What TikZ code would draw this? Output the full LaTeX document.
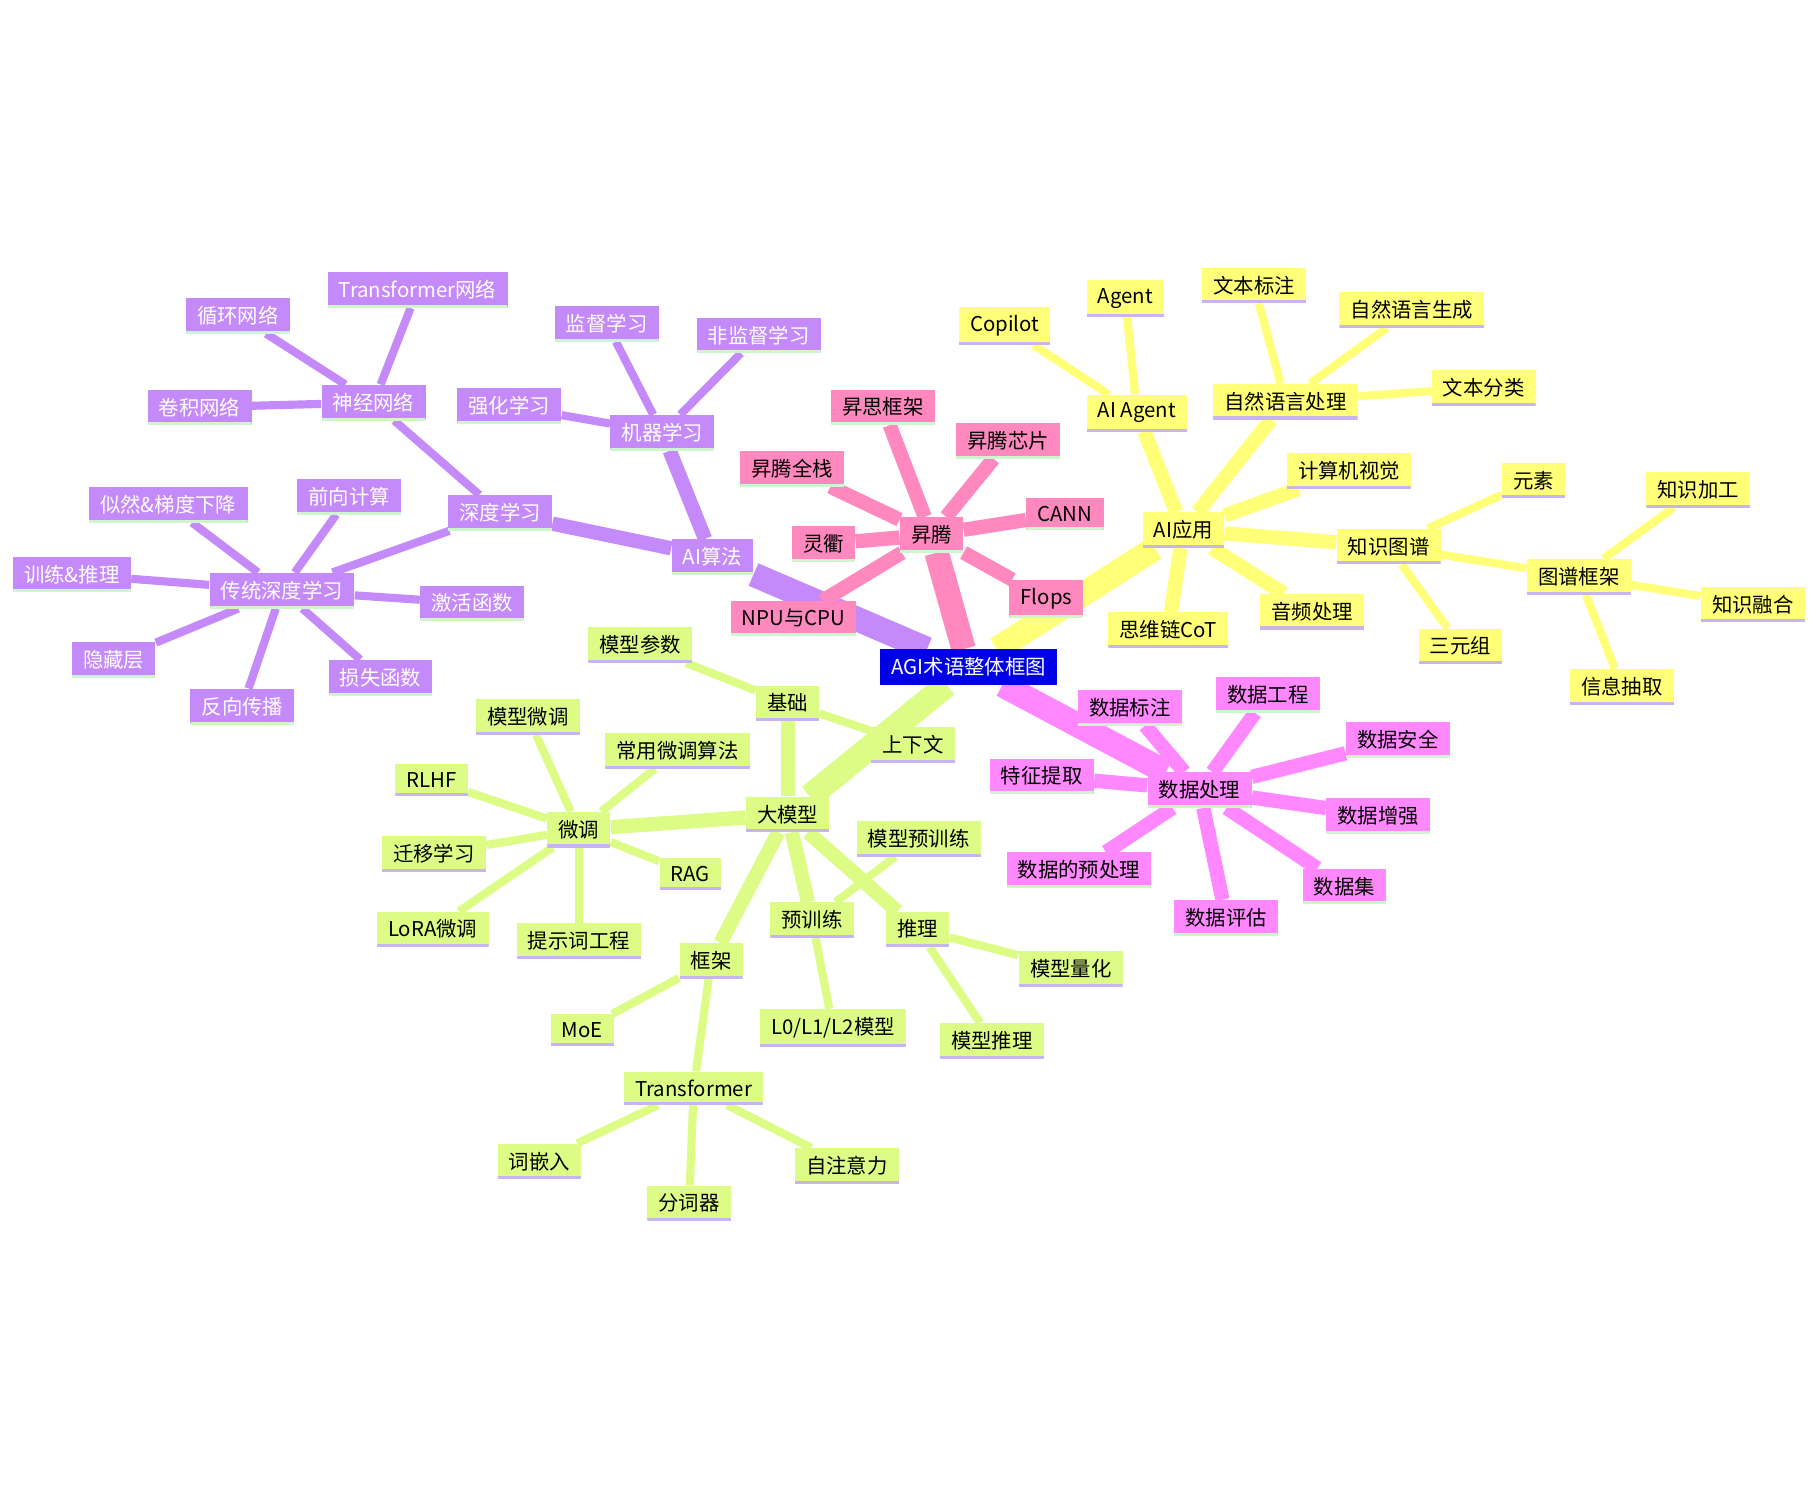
\documentclass[tikz,border=0pt]{standalone}
\usepackage{fontspec}
\setmainfont{Noto Sans CJK SC}
\usetikzlibrary{backgrounds}
\definecolor{purp}{HTML}{C58AF9}
\definecolor{pinkc}{HTML}{FF88BE}
\definecolor{yell}{HTML}{FFFF78}
\definecolor{grn}{HTML}{DCFC86}
\definecolor{mag}{HTML}{FF88FF}
\definecolor{rootc}{HTML}{0000E6}
\definecolor{lgrn}{HTML}{CFF5CF}
\definecolor{lpur}{HTML}{C8B4F0}
\tikzset{
  box/.style args={#1/#2/#3}{fill=#1, text=#2, inner xsep=5.5pt, inner ysep=4pt,
    font=\fontsize{10}{12}\selectfont,
    path picture={\draw[line width=2.5pt,#3] (path picture bounding box.south west) -- (path picture bounding box.south east);}},
  pu/.style={box=purp/white/lgrn},
  pk/.style={box=pinkc/black/lgrn},
  ye/.style={box=yell/black/lpur},
  gr/.style={box=grn/black/lpur},
  mg/.style={box=mag/black/lgrn},
  lv1/.style={line width=12pt},
  lv2/.style={line width=7pt},
  lv3/.style={line width=4pt},
}
\begin{document}
\begin{tikzpicture}[x=0.02cm,y=-0.02cm]
\useasboundingbox (0,0) rectangle (1568,1283);
\node[box=rootc/white/rootc] (root) at (835,575) {AGI术语整体框图};
% purple branch
\node[pu] (alg) at (614,480) {AI算法};
\node[pu] (ml) at (571,373) {机器学习};
\node[pu] (sup) at (523,279) {监督学习};
\node[pu] (unsup) at (654,289) {非监督学习};
\node[pu] (rl) at (439,350) {强化学习};
\node[pu] (dl) at (431,442) {深度学习};
\node[pu] (nn) at (322,347) {神经网络};
\node[pu] (rnn) at (205,272) {循环网络};
\node[pu] (trn) at (360,250) {Transformer网络};
\node[pu] (cnn) at (172,351) {卷积网络};
\node[pu] (tdl) at (243,509) {传统深度学习};
\node[pu] (grad) at (145,435) {似然\&梯度下降};
\node[pu] (fwd) at (301,428) {前向计算};
\node[pu] (train) at (62,495) {训练\&推理};
\node[pu] (act) at (407,520) {激活函数};
\node[pu] (hid) at (98,569) {隐藏层};
\node[pu] (bp) at (209,609) {反向传播};
\node[pu] (loss) at (328,584) {损失函数};
% pink branch
\node[pk] (ast) at (803,461) {昇腾};
\node[pk] (msf) at (761,351) {昇思框架};
\node[pk] (chip) at (869,380) {昇腾芯片};
\node[pk] (full) at (683,404) {昇腾全栈};
\node[pk] (cann) at (918,443) {CANN};
\node[pk] (lq) at (710,469) {灵衢};
\node[pk] (flops) at (902,516) {Flops};
\node[pk] (npu) at (684,533) {NPU与CPU};
% yellow branch
\node[ye] (app) at (1020,457) {AI应用};
\node[ye] (aag) at (980,356) {AI Agent};
\node[ye] (cop) at (866,281) {Copilot};
\node[ye] (agent) at (970,257) {Agent};
\node[ye] (nlp) at (1108,346) {自然语言处理};
\node[ye] (tag) at (1081,246) {文本标注};
\node[ye] (nlg) at (1217,267) {自然语言生成};
\node[ye] (cls) at (1279,334) {文本分类};
\node[ye] (cv) at (1163,406) {计算机视觉};
\node[ye] (kg) at (1197,471) {知识图谱};
\node[ye] (elem) at (1322,414) {元素};
\node[ye] (tri) at (1259,557) {三元组};
\node[ye] (kgf) at (1361,497) {图谱框架};
\node[ye] (kproc) at (1464,422) {知识加工};
\node[ye] (kfuse) at (1511,521) {知识融合};
\node[ye] (ie) at (1398,592) {信息抽取};
\node[ye] (cot) at (1007,543) {思维链CoT};
\node[ye] (aud) at (1131,527) {音频处理};
% magenta branch
\node[mg] (dp) at (1034,681) {数据处理};
\node[mg] (dlab) at (974,610) {数据标注};
\node[mg] (deng) at (1093,599) {数据工程};
\node[mg] (dsec) at (1205,638) {数据安全};
\node[mg] (feat) at (898,669) {特征提取};
\node[mg] (aug) at (1188,703) {数据增强};
\node[mg] (pre) at (930,750) {数据的预处理};
\node[mg] (dset) at (1159,764) {数据集};
\node[mg] (deval) at (1057,791) {数据评估};
% green branch
\node[gr] (llm) at (679,702) {大模型};
\node[gr] (base) at (679,606) {基础};
\node[gr] (param) at (552,556) {模型参数};
\node[gr] (ctx) at (787,642) {上下文};
\node[gr] (ft) at (499,715) {微调};
\node[gr] (mft) at (455,618) {模型微调};
\node[gr] (alg2) at (584,647) {常用微调算法};
\node[gr] (rlhf) at (372,672) {RLHF};
\node[gr] (tl) at (374,736) {迁移学习};
\node[gr] (rag) at (595,753) {RAG};
\node[gr] (lora) at (373,801) {LoRA微调};
\node[gr] (prompt) at (499,811) {提示词工程};
\node[gr] (mpt) at (792,723) {模型预训练};
\node[gr] (pt) at (700,793) {预训练};
\node[gr] (inf) at (791,801) {推理};
\node[gr] (quant) at (923,835) {模型量化};
\node[gr] (minf) at (855,897) {模型推理};
\node[gr] (lvl) at (718,886) {L0/L1/L2模型};
\node[gr] (fw) at (613,828) {框架};
\node[gr] (moe) at (502,888) {MoE};
\node[gr] (tf) at (598,938) {Transformer};
\node[gr] (emb) at (465,1001) {词嵌入};
\node[gr] (tok) at (594,1037) {分词器};
\node[gr] (att) at (730,1005) {自注意力};
\begin{scope}[on background layer]
  \draw[lv1, purp] (root) -- (alg);
  \draw[lv1, pinkc] (root) -- (ast);
  \draw[lv1, yell] (root) -- (app);
  \draw[lv1, mag] (root) -- (dp);
  \draw[lv1, grn] (root) -- (llm);
  \foreach \a/\b in {alg/ml, alg/dl} \draw[lv2, purp] (\a) -- (\b);
  \foreach \a/\b in {ml/sup, ml/unsup, ml/rl, dl/nn, dl/tdl, nn/rnn, nn/trn, nn/cnn,
    tdl/grad, tdl/fwd, tdl/train, tdl/act, tdl/hid, tdl/bp, tdl/loss} \draw[lv3, purp] (\a) -- (\b);
  \foreach \a in {msf, chip, full, cann, lq, flops, npu} \draw[lv2, pinkc] (ast) -- (\a);
  \foreach \a in {aag, nlp, cv, kg, cot, aud} \draw[lv2, yell] (app) -- (\a);
  \foreach \a/\b in {aag/cop, aag/agent, nlp/tag, nlp/nlg, nlp/cls, kg/elem, kg/tri, kg/kgf,
    kgf/kproc, kgf/kfuse, kgf/ie} \draw[lv3, yell] (\a) -- (\b);
  \foreach \a in {dlab, deng, dsec, feat, aug, pre, dset, deval} \draw[lv2, mag] (dp) -- (\a);
  \foreach \a in {base, ft, pt, inf, fw} \draw[lv2, grn] (llm) -- (\a);
  \foreach \a/\b in {base/param, base/ctx, ft/mft, ft/alg2, ft/rlhf, ft/tl, ft/rag, ft/lora, ft/prompt,
    pt/mpt, pt/lvl, inf/quant, inf/minf, fw/moe, fw/tf, tf/emb, tf/tok, tf/att} \draw[lv3, grn] (\a) -- (\b);
\end{scope}
\end{tikzpicture}
\end{document}
